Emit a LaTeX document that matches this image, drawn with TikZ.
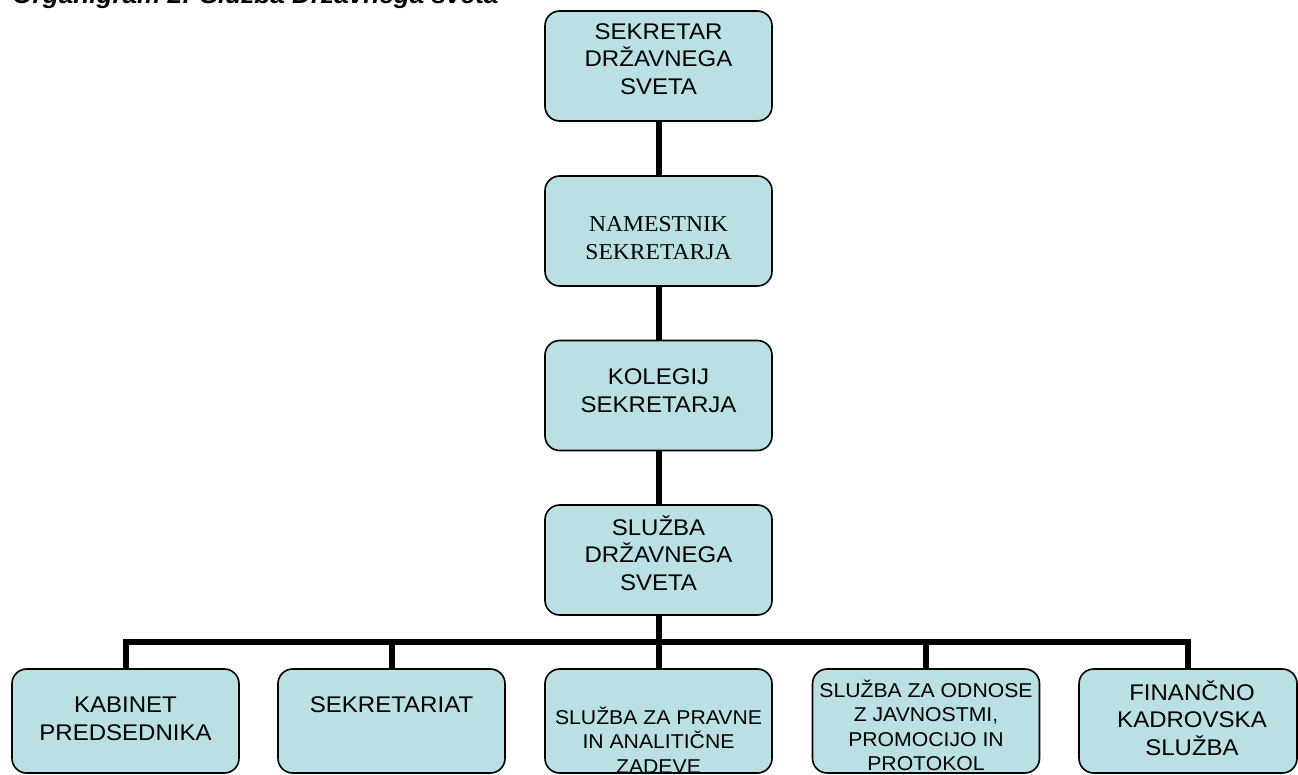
\documentclass[tikz,border=0pt]{standalone}
\usepackage{fontspec}
\setmainfont[FakeStretch=1.06]{Liberation Sans}
\newfontfamily\timesfont[FakeStretch=1.04]{Liberation Serif}
\usetikzlibrary{backgrounds}
\definecolor{boxfill}{RGB}{186,224,228}
\begin{document}
\begin{tikzpicture}[x=0.75pt,y=-0.75pt,
  box/.style={draw=black, line width=1.2pt, fill=boxfill, rounded corners=11pt,
    minimum width=170.25pt, minimum height=82.5pt, inner sep=0pt},
  childbox/.style={box, minimum height=78pt},
  lbl/.style={align=center, inner sep=0pt, font=\fontsize{17}{20.8}\selectfont},
  lbls/.style={align=center, inner sep=0pt, font=\fontsize{15}{18.4}\selectfont},
  lblserif/.style={align=center, inner sep=0pt, font=\timesfont\fontsize{17}{21.3}\selectfont},
  conn/.style={line width=4.5pt, line join=miter},
  titlefont/.style={font=\fontsize{18.5}{23}\selectfont\bfseries\itshape}]
\useasboundingbox (0,0) rectangle (1298,774);

% title (cut off at the top of the picture)
\node[titlefont, anchor=base west, inner sep=0pt] (title) at (12,4) {Organigram 2: Služba Državnega sveta};

% boxes of the main column
\node[box] (sek) at (658.5,66) {};
\node[box] (nam) at (658.5,231) {};
\node[box] (kol) at (658.5,395.5) {};
\node[box] (slz) at (658.5,560) {};

% bottom row
\node[childbox] (kab) at (125.5,721) {};
\node[childbox] (sekr) at (391.5,721) {};
\node[childbox] (prav) at (658.5,721) {};
\node[childbox] (odn) at (926,721) {};
\node[childbox, minimum width=163.5pt] (fin) at (1188,721) {};

% texts
\node[lbl] (sek-t) at (658.5,59) {SEKRETAR\\DRŽAVNEGA\\SVETA};
\node[lblserif] (nam-t) at (658.5,238) {NAMESTNIK\\SEKRETARJA};
\node[lbl] (kol-t) at (658.5,391) {KOLEGIJ\\SEKRETARJA};
\node[lbl] (slz-t) at (658.5,553) {SLUŽBA\\DRŽAVNEGA\\SVETA};
\node[lbl] (kab-t) at (125.5,719) {KABINET\\PREDSEDNIKA};
\node[lbl] (sekr-t) at (391.5,705) {SEKRETARIAT};
\node[lbls] (prav-t) at (658.5,740) {SLUŽBA ZA PRAVNE\\IN ANALITIČNE\\ZADEVE};
\node[lbls] (odn-t) at (926,725.5) {SLUŽBA ZA ODNOSE\\Z JAVNOSTMI,\\PROMOCIJO IN\\PROTOKOL};
\node[lbl] (fin-t) at (1192,718) {FINANČNO\\KADROVSKA\\SLUŽBA};

% connectors
\coordinate (bar) at (658.5,642);
\begin{pgfonlayer}{background}
\draw[conn] (sek.south) -- (nam.north);
\draw[conn] (nam.south) -- (kol.north);
\draw[conn] (kol.south) -- (slz.north);
\draw[conn] (slz.south) -- (bar);
\draw[conn] (kab.north) |- (bar) -| (fin.north);
\draw[conn] (sekr.north) -- (sekr.north |- bar);
\draw[conn] (prav.north) -- (prav.north |- bar);
\draw[conn] (odn.north) -- (odn.north |- bar);
\end{pgfonlayer}
\end{tikzpicture}
\end{document}
